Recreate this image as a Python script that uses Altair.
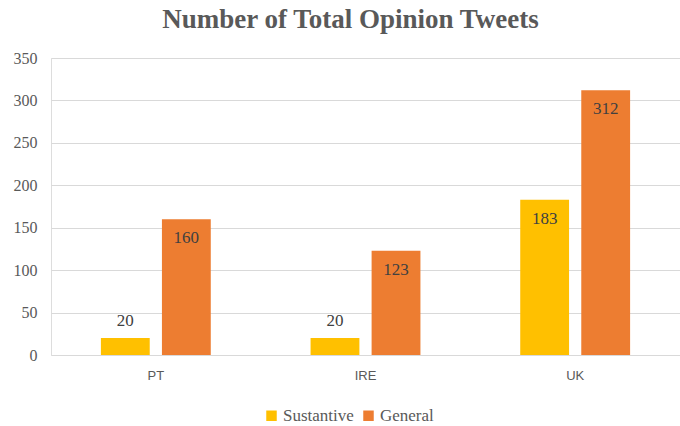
import altair as alt
import pandas as pd

countries = ["PT", "IRE", "UK"]
series = ["Sustantive", "General"]
sustantive = [20, 20, 183]
general = [160, 123, 312]

rows = []
for i, c in enumerate(countries):
    rows.append({"country": c, "type": "Sustantive", "tweets": sustantive[i]})
    rows.append({"country": c, "type": "General", "tweets": general[i]})
df = pd.DataFrame(rows)

grey = "#595959"
serif = "'Times New Roman', 'Liberation Serif', serif"

x_enc = alt.X(
    "country:N",
    sort=countries,
    scale=alt.Scale(paddingInner=0.476, paddingOuter=0.238),
    axis=alt.Axis(
        title=None, labelAngle=0, ticks=False, domain=False,
        labelFont="'Liberation Sans', Arial, sans-serif", labelFontSize=13,
        labelColor=grey, labelPadding=14,
    ),
)
xoff_enc = alt.XOffset(
    "type:N", sort=series, scale=alt.Scale(paddingInner=0.2, paddingOuter=0)
)
y_enc = alt.Y(
    "tweets:Q",
    scale=alt.Scale(domain=[0, 350], nice=False),
    axis=alt.Axis(
        title=None, values=list(range(0, 351, 50)), ticks=False, domain=False,
        labelFont=serif, labelFontSize=16, labelColor=grey, labelPadding=14,
        gridColor="#d9d9d9", gridWidth=1.2,
    ),
)

base = alt.Chart(df).encode(x=x_enc, xOffset=xoff_enc)

bars = base.mark_bar().encode(
    y=y_enc,
    color=alt.Color(
        "type:N",
        sort=series,
        scale=alt.Scale(domain=series, range=["#FFC000", "#ED7D31"]),
        legend=alt.Legend(
            title=None, orient="none", direction="horizontal",
            legendX=212, legendY=349, symbolType="square", symbolSize=110,
            symbolStrokeWidth=0, labelFont=serif, labelFontSize=17,
            labelColor=grey, columnPadding=6, labelOffset=3,
        ),
    ),
)

labels_above = base.transform_filter("datum.tweets < 50").mark_text(
    font=serif, fontSize=17, color="#404040", baseline="middle", dy=-17
).encode(y="tweets:Q", text="tweets:Q")

labels_inside = base.transform_filter("datum.tweets >= 50").mark_text(
    font=serif, fontSize=17, color="#404040", baseline="middle", dy=19
).encode(y="tweets:Q", text="tweets:Q")

chart = (
    alt.layer(bars, labels_above, labels_inside)
    .properties(
        width=629,
        height=297,
        autosize=alt.AutoSizeParams(type="none"),
        padding={"left": 51, "top": 58, "right": 0, "bottom": 71},
        title=alt.Title(
            "Number of Total Opinion Tweets",
            font=serif, fontSize=27, fontWeight="bold", color=grey,
            anchor="middle", dx=-15, offset=16,
        ),
    )
    .configure_view(stroke=None)
    .configure(background="white")
)

chart.save("out.html", embed_options={"renderer": "svg", "actions": False})
